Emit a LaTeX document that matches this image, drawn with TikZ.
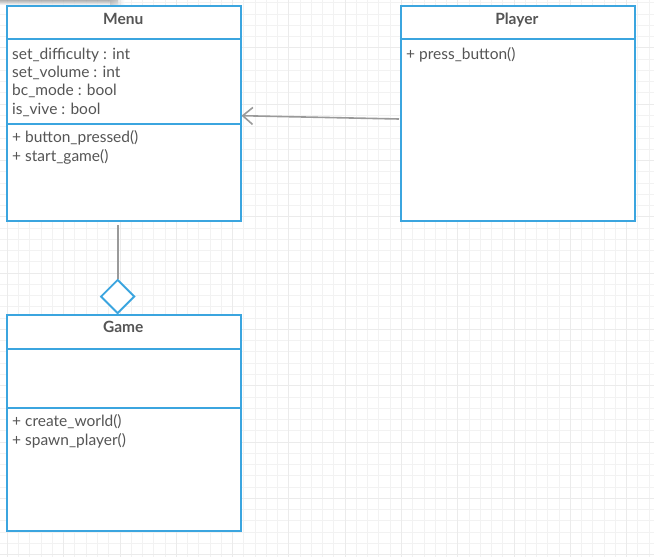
\documentclass[tikz,border=0pt]{standalone}
\usepackage{fontspec}
\setmainfont{Lato}
\usetikzlibrary{arrows.meta,shapes.geometric}
\definecolor{umlblue}{HTML}{3BA5DF}
\definecolor{umltext}{HTML}{555555}
\definecolor{conn}{HTML}{9A9A9A}
\definecolor{gridminor}{HTML}{F2F2F2}
\definecolor{gridmajor}{HTML}{EBEBEB}
\tikzset{
  box/.style={draw=umlblue, line width=1.9pt, fill=white, anchor=north west, inner sep=0pt},
  sep/.style={draw=umlblue, line width=1.9pt},
  title/.style={font=\fontsize{15.5}{18}\selectfont\bfseries, text=umltext, anchor=base, inner sep=0pt},
  member/.style={font=\fontsize{15.5}{18}\selectfont, text=umltext, anchor=base west, inner sep=0pt},
  connector/.style={draw=conn, line width=1.6pt},
}
\begin{document}
\begin{tikzpicture}[x=1pt,y=-1pt]
\useasboundingbox (0,0) rectangle (654,557);
\fill[white] (0,0) rectangle (654,557);
% grid
\foreach \i in {0,...,58} {
  \draw[gridminor, line width=0.8pt] ({7.3-11.26+11.26*\i},0) -- ({7.3-11.26+11.26*\i},557);
}
\foreach \i in {0,...,50} {
  \draw[gridminor, line width=0.8pt] (0,{2.8+11.26*\i}) -- (654,{2.8+11.26*\i});
}
\foreach \i in {0,...,11} {
  \draw[gridmajor, line width=0.8pt] ({7.3+56.3*\i},0) -- ({7.3+56.3*\i},557);
}
\foreach \i in {0,...,9} {
  \draw[gridmajor, line width=0.8pt] (0,{47.8+56.3*\i}) -- (654,{47.8+56.3*\i});
}
% top-left shadow
\shade[top color=gray!75, bottom color=white, opacity=0.8] (0,0) rectangle (118,5);
\shade[left color=gray!60, right color=white, opacity=0.6] (110,0) rectangle (125,4);

% Menu
\node[box, minimum width=234pt, minimum height=215pt] (menu) at (6.3,4.7) {};
\draw[sep] (6.3,39.3) -- (240.3,39.3);
\draw[sep] (6.3,124) -- (240.3,124);
\node[title] (menut) at (123.3,24) {Menu};
\node[member] (ma1) at (12,59) {set\_difficulty : int};
\node[member] (ma2) at (12,77.4) {set\_volume : int};
\node[member] (ma3) at (12,95.8) {bc\_mode : bool};
\node[member] (ma4) at (12,114.2) {is\_vive : bool};
\node[member] (mo1) at (12,142.7) {+ button\_pressed()};
\node[member] (mo2) at (12,161.3) {+ start\_game()};

% Player
\node[box, minimum width=234.3pt, minimum height=215pt] (player) at (399.7,4.7) {};
\draw[sep] (399.7,39.3) -- (634,39.3);
\node[title] (playert) at (516.8,24) {Player};
\node[member] (po1) at (406,59) {+ press\_button()};

% Game
\node[box, minimum width=234pt, minimum height=216pt] (game) at (6.3,314) {};
\draw[sep] (6.3,349) -- (240.3,349);
\draw[sep] (6.3,408) -- (240.3,408);
\node[title] (gamet) at (123.3,332.7) {Game};
\node[member] (go1) at (12,426.7) {+ create\_world()};
\node[member] (go2) at (12,445.5) {+ spawn\_player()};

% association arrow Player -> Menu
\coordinate (pstart) at (399,119);
\coordinate (mend) at (241.5,115.7);
\draw[connector, -{Straight Barb[length=10pt,width=17pt,line width=1.6pt]}] (pstart) -- (mend);

% aggregation
\coordinate (agtop) at (117.7,225);
\node[diamond, draw=umlblue, line width=1.9pt, fill=white, minimum width=34pt, minimum height=34pt, inner sep=0pt] (dia) at (117.7,296.5) {};
\draw[connector] (agtop) -- (dia.north);
\end{tikzpicture}
\end{document}
